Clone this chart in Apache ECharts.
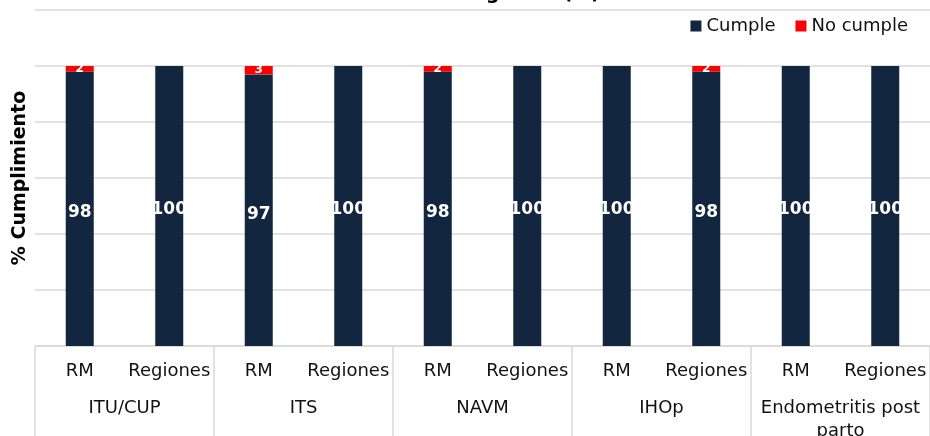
<!DOCTYPE html>
<html>
<head>
<meta charset="utf-8">
<script src="https://cdn.jsdelivr.net/npm/echarts@6/dist/echarts.min.js"></script>
<style>
html,body{margin:0;padding:0;background:#fff;}
#chart{width:930px;height:436px;}
</style>
</head>
<body>
<div id="chart"></div>
<script>
// Data
var groups = ['ITU/CUP', 'ITS', 'NAVM', 'IHOp', 'Endometritis post\nparto'];
var subCategories = ['RM', 'Regiones', 'RM', 'Regiones', 'RM', 'Regiones', 'RM', 'Regiones', 'RM', 'Regiones'];
var cumple = [98, 100, 97, 100, 98, 100, 100, 98, 100, 100];
var noCumple = [2, 0, 3, 0, 2, 0, 0, 2, 0, 0];
var yTicks = [0, 20, 40, 60, 80, 100, 120];

var chart = echarts.init(document.getElementById('chart'));
var font = 'DejaVu Sans';
var option = {
  animation: false,
  textStyle: { fontFamily: font },
  title: {
    text: 'Evaluación RM vs Regiones (%)',
    right: 325,
    top: -20,
    textStyle: { fontFamily: font, fontSize: 19, fontWeight: 'bold', color: '#000' }
  },
  legend: {
    data: ['Cumple', 'No cumple'],
    right: 17,
    top: 12,
    icon: 'rect',
    itemWidth: 11,
    itemHeight: 11,
    itemGap: 20,
    textStyle: { fontFamily: font, fontSize: 18, color: '#111' }
  },
  grid: { left: 35, right: 0, top: 10, bottom: 90, containLabel: false, outerBoundsMode: 'none' },
  xAxis: [
    {
      type: 'category',
      data: subCategories,
      position: 'bottom',
      axisLine: { show: true, lineStyle: { color: '#d9d9d9', width: 1.5 } },
      axisTick: {
        show: true,
        length: 90,
        interval: function (index) { return index % 2 === 0; },
        lineStyle: { color: '#d9d9d9', width: 1.5 }
      },
      axisLabel: { interval: 0, margin: 16, fontSize: 18, color: '#111', fontFamily: font }
    },
    {
      type: 'category',
      data: groups,
      position: 'bottom',
      offset: 37,
      axisLine: { show: false },
      axisTick: { show: false },
      axisLabel: { interval: 0, margin: 14, fontSize: 18, lineHeight: 23, color: '#111', fontFamily: font }
    }
  ],
  yAxis: {
    type: 'value',
    min: yTicks[0],
    max: yTicks[yTicks.length - 1],
    interval: yTicks[1] - yTicks[0],
    name: '% Cumplimiento',
    nameLocation: 'middle',
    nameGap: 5,
    nameTextStyle: { fontFamily: font, fontSize: 19, fontWeight: 'bold', color: '#000' },
    axisLabel: { show: false },
    axisLine: { show: false },
    axisTick: { show: false },
    splitLine: { lineStyle: { color: '#d9d9d9', width: 1.5 } }
  },
  series: [
    {
      name: 'Cumple',
      type: 'bar',
      stack: 'total',
      xAxisIndex: 0,
      barWidth: 28,
      data: cumple,
      itemStyle: { color: '#12263f' },
      label: {
        show: true,
        position: 'inside',
        offset: [0, 4],
        color: '#fff',
        fontWeight: 'bold',
        fontSize: 17,
        fontFamily: font,
        formatter: function (p) { return p.value ? String(p.value) : ''; }
      }
    },
    {
      name: 'No cumple',
      type: 'bar',
      stack: 'total',
      xAxisIndex: 0,
      barWidth: 28,
      data: noCumple,
      itemStyle: { color: '#ff0000' },
      label: {
        show: true,
        position: 'inside',
        color: '#fff',
        fontWeight: 'bold',
        fontSize: 12,
        fontFamily: font,
        formatter: function (p) { return p.value ? String(p.value) : ''; }
      }
    }
  ]
};
chart.setOption(option);
</script>
</body>
</html>
